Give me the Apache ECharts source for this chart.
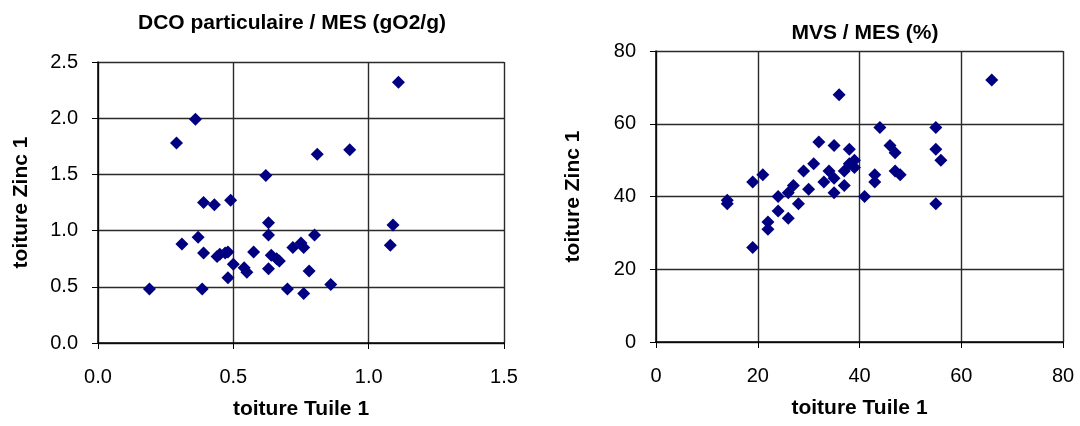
<!DOCTYPE html>
<html>
<head>
<meta charset="utf-8">
<script src="https://cdn.jsdelivr.net/npm/echarts@6/dist/echarts.min.js"></script>
<style>
html,body{margin:0;padding:0;background:#fff;}
#c{width:1080px;height:426px;}
</style>
</head>
<body>
<div id="c"></div>
<script>
// Left chart: DCO particulaire / MES (gO2/g)
const leftTitle = 'DCO particulaire / MES (gO2/g)';
const leftX = [0.19,0.29,0.31,0.36,0.37,0.385,0.39,0.39,0.43,0.44,0.45,0.47,0.48,0.48,0.49,0.50,0.54,0.55,0.575,0.62,0.63,0.63,0.63,0.64,0.66,0.67,0.70,0.72,0.75,0.76,0.76,0.78,0.80,0.81,0.86,0.93,1.08,1.09,1.11];
const leftY = [0.48,1.78,0.88,1.99,0.94,0.48,1.25,0.80,1.23,0.77,0.79,0.80,0.81,0.58,1.27,0.70,0.67,0.63,0.81,1.49,1.07,0.96,0.66,0.78,0.75,0.73,0.48,0.85,0.89,0.85,0.44,0.64,0.96,1.68,0.52,1.72,0.87,1.05,2.32];
const leftXTicks = [0, 0.5, 1.0, 1.5];
const leftYTicks = [0, 0.5, 1.0, 1.5, 2.0, 2.5];

// Right chart: MVS / MES (%)
const rightTitle = 'MVS / MES (%)';
const rightX = [14,14,19,19,21,22,22,24,24,26,26,27,28,29,30,31,32,33,34,35,35,35,36,37,37,38,38,39,39,41,43,43,44,46,47,47,48,55,55,55,56,66];
const rightY = [39,38,44,26,46,33,31,40,36,41,34,43,38,47,42,49,55,44,47,54,45,41,68,47,43,53,49,50,48,40,46,44,59,54,52,47,46,59,53,38,50,72];
const rightXTicks = [0, 20, 40, 60, 80];
const rightYTicks = [0, 20, 40, 60, 80];

const xName = 'toiture Tuile 1';
const yName = 'toiture Zinc 1';

const FONT = '"Liberation Sans", Arial, sans-serif';
const navy = '#000080';

function pairs(xs, ys){ return xs.map((x,i)=>[x, ys[i]]); }

function axisCommon(ticks, dec, isX, yGap){
  return {
    type: 'value',
    min: ticks[0], max: ticks[ticks.length-1], interval: ticks[1]-ticks[0],
    axisLine: {show: true, onZero: false, lineStyle: {color: '#000', width: 1.5}},
    axisTick: {show: true, inside: false, length: 6, lineStyle: {color: '#000', width: 1}},
    axisLabel: {
      color: '#000', fontFamily: FONT, fontSize: 20,
      margin: isX ? 24 : 20,
      formatter: v => v.toFixed(dec)
    },
    splitLine: {show: true, lineStyle: {color: '#2a2a2a', width: 1.4}},
    name: isX ? xName : yName,
    nameLocation: 'middle',
    nameGap: isX ? 56 : yGap,
    nameTextStyle: {color: '#000', fontFamily: FONT, fontSize: 21, fontWeight: 'bold'}
  };
}

const chart = echarts.init(document.getElementById('c'), null, {renderer: 'canvas'});
chart.setOption({
  animation: false,
  backgroundColor: '#fff',
  title: [
    {text: leftTitle, left: 287, top: 8, textAlign: 'center',
     textStyle: {fontFamily: FONT, fontSize: 21, fontWeight: 'bold', color: '#000'}},
    {text: rightTitle, left: 860, top: 18, textAlign: 'center',
     textStyle: {fontFamily: FONT, fontSize: 21, fontWeight: 'bold', color: '#000'}}
  ],
  grid: [
    {left: 98, top: 62, width: 406, height: 281},
    {left: 656, top: 51, width: 407, height: 291}
  ],
  xAxis: [
    Object.assign(axisCommon(leftXTicks, 1, true), {gridIndex: 0}),
    Object.assign(axisCommon(rightXTicks, 0, true), {gridIndex: 1})
  ],
  yAxis: [
    Object.assign(axisCommon(leftYTicks, 1, false, 66), {gridIndex: 0}),
    Object.assign(axisCommon(rightYTicks, 0, false, 72), {gridIndex: 1})
  ],
  series: [
    {type: 'scatter', xAxisIndex: 0, yAxisIndex: 0, symbol: 'diamond', symbolSize: 13,
     itemStyle: {color: navy, opacity: 1}, data: pairs(leftX, leftY)},
    {type: 'scatter', xAxisIndex: 1, yAxisIndex: 1, symbol: 'diamond', symbolSize: 13,
     itemStyle: {color: navy, opacity: 1}, data: pairs(rightX, rightY)}
  ]
});
</script>
</body>
</html>
